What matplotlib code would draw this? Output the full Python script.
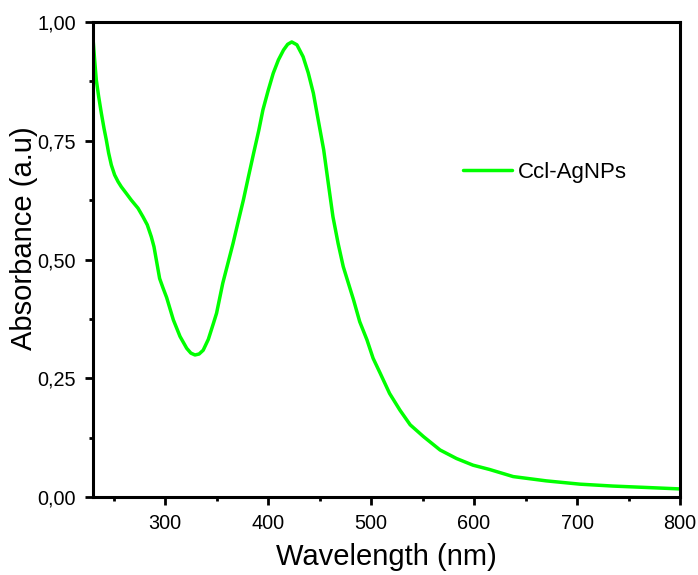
import matplotlib
matplotlib.use("Agg")
import matplotlib.pyplot as plt
from matplotlib.ticker import FixedLocator, FixedFormatter

plt.rcParams['font.family'] = ['Liberation Sans', 'DejaVu Sans']

# UV-Vis absorbance spectrum of Ccl-AgNPs
wavelength_nm = [230, 231.6, 233.2, 235.5, 238.1, 240.7, 242.9, 245.2, 247.8,
                 251.0, 254.3, 257.5, 262.4, 267.2, 273.7, 278.5, 282.7, 286.6,
                 289.2, 291.5, 294.7, 298, 301.5, 308, 314.5, 321, 325, 329,
                 333, 337, 342, 347, 350, 356, 361, 366, 371, 376, 381, 386,
                 391, 395, 400, 405, 410, 415, 419, 423, 428, 434, 439, 444,
                 449, 454, 458.5, 463, 468, 473, 478, 483, 489, 496, 502, 509,
                 518, 528, 538, 551, 567, 583, 599, 615, 638, 670, 703, 735,
                 768, 800]
absorbance = [0.966, 0.920, 0.878, 0.843, 0.808, 0.776, 0.752, 0.724, 0.699,
              0.678, 0.664, 0.653, 0.639, 0.625, 0.608, 0.590, 0.573, 0.548,
              0.527, 0.499, 0.460, 0.440, 0.420, 0.373, 0.338, 0.313, 0.303,
              0.299, 0.301, 0.309, 0.332, 0.366, 0.387, 0.450, 0.492, 0.534,
              0.580, 0.625, 0.675, 0.724, 0.772, 0.815, 0.855, 0.892, 0.920,
              0.941, 0.953, 0.958, 0.952, 0.927, 0.893, 0.850, 0.790, 0.731,
              0.660, 0.590, 0.534, 0.485, 0.450, 0.415, 0.369, 0.331, 0.292,
              0.260, 0.218, 0.183, 0.152, 0.127, 0.099, 0.081, 0.067, 0.058,
              0.043, 0.034, 0.027, 0.023, 0.020, 0.017]
series_label = "Ccl-AgNPs"

x_major = [300, 400, 500, 600, 700, 800]
x_minor = [250, 350, 450, 550, 650, 750]
x_tick_labels = ["300", "400", "500", "600", "700", "800"]
y_major = [0.0, 0.25, 0.5, 0.75, 1.0]
y_minor = [0.125, 0.375, 0.625, 0.875]
y_tick_labels = ["0,00", "0,25", "0,50", "0,75", "1,00"]

fig = plt.figure(figsize=(6.98, 5.75), dpi=100)
ax = fig.add_axes([93 / 698, 1 - 497 / 575, 587 / 698, 475 / 575])

ax.plot(wavelength_nm, absorbance, color='#00ff00', lw=2.5,
        label=series_label, solid_joinstyle='round', solid_capstyle='round')

ax.set_xlim(230, 800)
ax.set_ylim(0, 1.0)

ax.xaxis.set_major_locator(FixedLocator(x_major))
ax.xaxis.set_major_formatter(FixedFormatter(x_tick_labels))
ax.xaxis.set_minor_locator(FixedLocator(x_minor))
ax.yaxis.set_major_locator(FixedLocator(y_major))
ax.yaxis.set_major_formatter(FixedFormatter(y_tick_labels))
ax.yaxis.set_minor_locator(FixedLocator(y_minor))

for s in ax.spines.values():
    s.set_linewidth(2.2)

ax.tick_params(which='major', direction='out', length=6, width=2.0,
               labelsize=14.3, pad=6.5, top=False, right=False)
ax.tick_params(which='minor', direction='out', length=3, width=2.0,
               top=False, right=False)

ax.set_xlabel("Wavelength (nm)", fontsize=21, labelpad=7)
ax.set_ylabel("Absorbance (a.u)", fontsize=21)
ax.yaxis.set_label_coords(-0.094, 0.545)

ax.legend(loc='center left', bbox_to_anchor=(0.630, 0.684), frameon=False,
          fontsize=16, handlelength=2.2, handletextpad=0.3,
          borderpad=0, borderaxespad=0)

fig.savefig("out.png", dpi=100)
